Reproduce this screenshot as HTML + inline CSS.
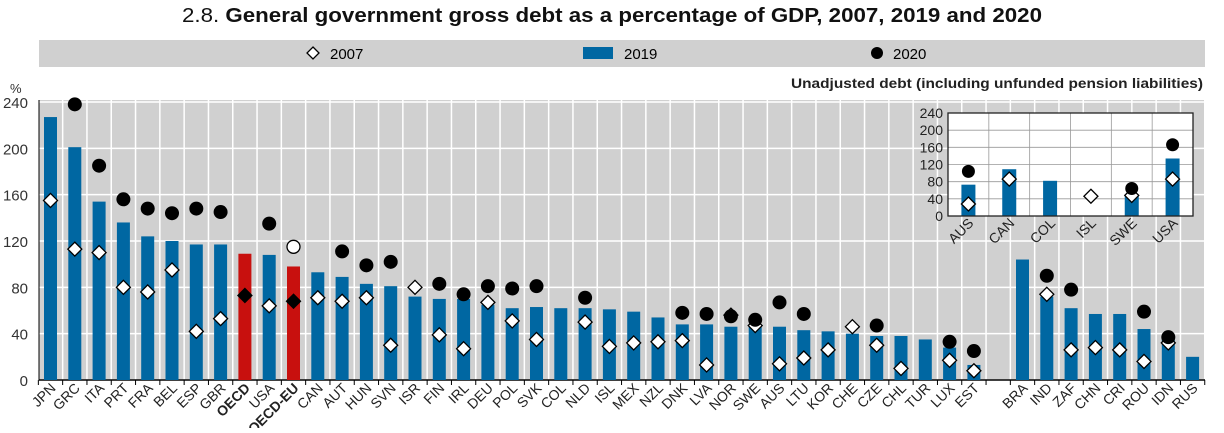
<!DOCTYPE html><html><head><meta charset="utf-8"><style>
body{margin:0;background:#fff;width:1224px;height:428px;overflow:hidden}
svg{font-family:"Liberation Sans",sans-serif}
</style></head><body>
<svg id="s" width="1224" height="428" xmlns="http://www.w3.org/2000/svg"></svg>
<script>
const s=document.getElementById('s');let h='';
h+='<text x="612" y="22" text-anchor="middle" font-size="20" fill="#111" textLength="860" lengthAdjust="spacingAndGlyphs"><tspan>2.8. </tspan><tspan font-weight="bold">General government gross debt as a percentage of GDP, 2007, 2019 and 2020</tspan></text>';
h+='<rect x="39" y="40" width="1166" height="27" fill="#d0d0d0"/>';
h+='<path d="M313 47l6 6-6 6-6-6z" fill="#fff" stroke="#000" stroke-width="1.3"/><text x="330" y="59" font-size="15">2007</text>';
h+='<rect x="583" y="47" width="30" height="12" fill="#0067a2"/><text x="624" y="59" font-size="15">2019</text>';
h+='<circle cx="877" cy="53" r="6" fill="#000"/><text x="893" y="59" font-size="15">2020</text>';
h+='<text x="1203" y="88" text-anchor="end" font-size="14" font-weight="bold" fill="#222" textLength="412" lengthAdjust="spacingAndGlyphs">Unadjusted debt (including unfunded pension liabilities)</text>';
h+='<text x="10" y="93" font-size="13" fill="#333">%</text>';
const y0=380,k=278/240,X0=39,X1=1205;
h+='<rect x="'+X0+'" y="100" width="'+(X1-X0)+'" height="280" fill="#d0d0d0"/>';
for(let v=0;v<=240;v+=40){const y=y0-v*k;h+='<line x1="'+X0+'" x2="'+X1+'" y1="'+y+'" y2="'+y+'" stroke="#fff" stroke-width="1.5"/><text x="28" y="'+(y+6)+'" font-size="15" text-anchor="end" fill="#333">'+v+'</text>';}
const d=[["JPN",227,155,null],["GRC",201,113,238],["ITA",154,110,185],["PRT",136,80,156],["FRA",124,76,148],["BEL",120,95,144],["ESP",117,42,148],["GBR",117,53,145],["OECD",109,73,null,1],["USA",108,64,135],["OECD-EU",98,68,115,1],["CAN",93,71,null],["AUT",89,68,111],["HUN",83,71,99],["SVN",81,30,102],["ISR",72,80,null],["FIN",70,39,83],["IRL",70,27,74],["DEU",65,67,81],["POL",62,51,79],["SVK",63,35,81],["COL",62,null,null],["NLD",62,50,71],["ISL",61,29,null],["MEX",59,32,null],["NZL",54,33,null],["DNK",48,34,58],["LVA",48,13,57],["NOR",46,56,55],["SWE",47,47,52],["AUS",46,14,67],["LTU",43,19,57],["KOR",42,26,null],["CHE",40,46,null],["CZE",38,30,47],["CHL",38,10,null],["TUR",35,null,null],["LUX",28,17,33],["EST",13,8,25],null,["BRA",104,null,null],["IND",72,74,90],["ZAF",62,26,78],["CHN",57,28,null],["CRI",57,26,null],["ROU",44,16,59],["IDN",35,32,37],["RUS",20,null,null]];
const w=24.3,c0=50.5;
for(let i=0;i<=48;i++){const x=c0-w/2+i*w;h+='<line x1="'+x+'" x2="'+x+'" y1="100" y2="380" stroke="#fff" stroke-width="1.5"/><line x1="'+x+'" x2="'+x+'" y1="380" y2="385" stroke="#000"/>';}
h+='<line x1="39" x2="39" y1="100" y2="380" stroke="#000"/><line x1="39" x2="1205" y1="380" y2="380" stroke="#000" stroke-width="1.5"/>';
let m='';
d.forEach((r,i)=>{if(!r)return;const x=c0+i*w;const[n,b,a,c,o]=r;
h+='<rect x="'+(x-6.5)+'" y="'+(y0-b*k)+'" width="13" height="'+(b*k)+'" fill="'+(o?'#c8100e':'#0067a2')+'"/>';
if(a!=null){const y=y0-a*k;m+='<path d="M'+x+' '+(y-7)+'l7 7-7 7-7-7z" fill="'+(o?'#000':'#fff')+'" stroke="#000" stroke-width="1.3"/>';}
if(c!=null){const y=y0-c*k;m+=o?'<circle cx="'+x+'" cy="'+y+'" r="6.5" fill="#fff" stroke="#000" stroke-width="1.3"/>':'<circle cx="'+x+'" cy="'+y+'" r="7" fill="#000"/>';}
h+='<text transform="translate('+(x+6)+',389) rotate(-45)" text-anchor="end" font-size="14" fill="#222"'+(o?' font-weight="bold"':'')+'>'+n+'</text>';});
h+=m;
// inset
const ix0=948,ix1=1193,iy0=216,iy1=113,ik=(iy0-iy1)/240,iw=(ix1-ix0)/6;
h+='<rect x="'+ix0+'" y="'+iy1+'" width="'+(ix1-ix0)+'" height="'+(iy0-iy1)+'" fill="#fff"/>';
for(let v=0;v<=240;v+=40){const y=iy0-v*ik;h+='<line x1="'+ix0+'" x2="'+ix1+'" y1="'+y+'" y2="'+y+'" stroke="#999" stroke-width="0.8"/><text x="'+(ix0-5)+'" y="'+(y+5)+'" font-size="14" text-anchor="end" fill="#222">'+v+'</text>';}
for(let i=1;i<6;i++){const x=ix0+i*iw;h+='<line x1="'+x+'" x2="'+x+'" y1="'+iy1+'" y2="'+iy0+'" stroke="#999" stroke-width="0.8"/>';}
const id=[["AUS",73,28,104],["CAN",109,86,null],["COL",82,null,null],["ISL",null,46,null],["SWE",50,48,64],["USA",134,86,166]];
let im='';
id.forEach((r,i)=>{const x=ix0+iw*(i+0.5);const[n,b,a,c]=r;
if(b)h+='<rect x="'+(x-7)+'" y="'+(iy0-b*ik)+'" width="14" height="'+(b*ik)+'" fill="#0067a2"/>';
if(a!=null){const y=iy0-a*ik;im+='<path d="M'+x+' '+(y-7)+'l7 7-7 7-7-7z" fill="#fff" stroke="#000" stroke-width="1.3"/>';}
if(c!=null){im+='<circle cx="'+x+'" cy="'+(iy0-c*ik)+'" r="6.5" fill="#000"/>';}
h+='<text transform="translate('+(x+6)+',224) rotate(-45)" text-anchor="end" font-size="14" fill="#222">'+n+'</text>';});
h+=im+'<rect x="'+ix0+'" y="'+iy1+'" width="'+(ix1-ix0)+'" height="'+(iy0-iy1)+'" fill="none" stroke="#222" stroke-width="1.3"/>';
s.innerHTML=h;
</script></body></html>
